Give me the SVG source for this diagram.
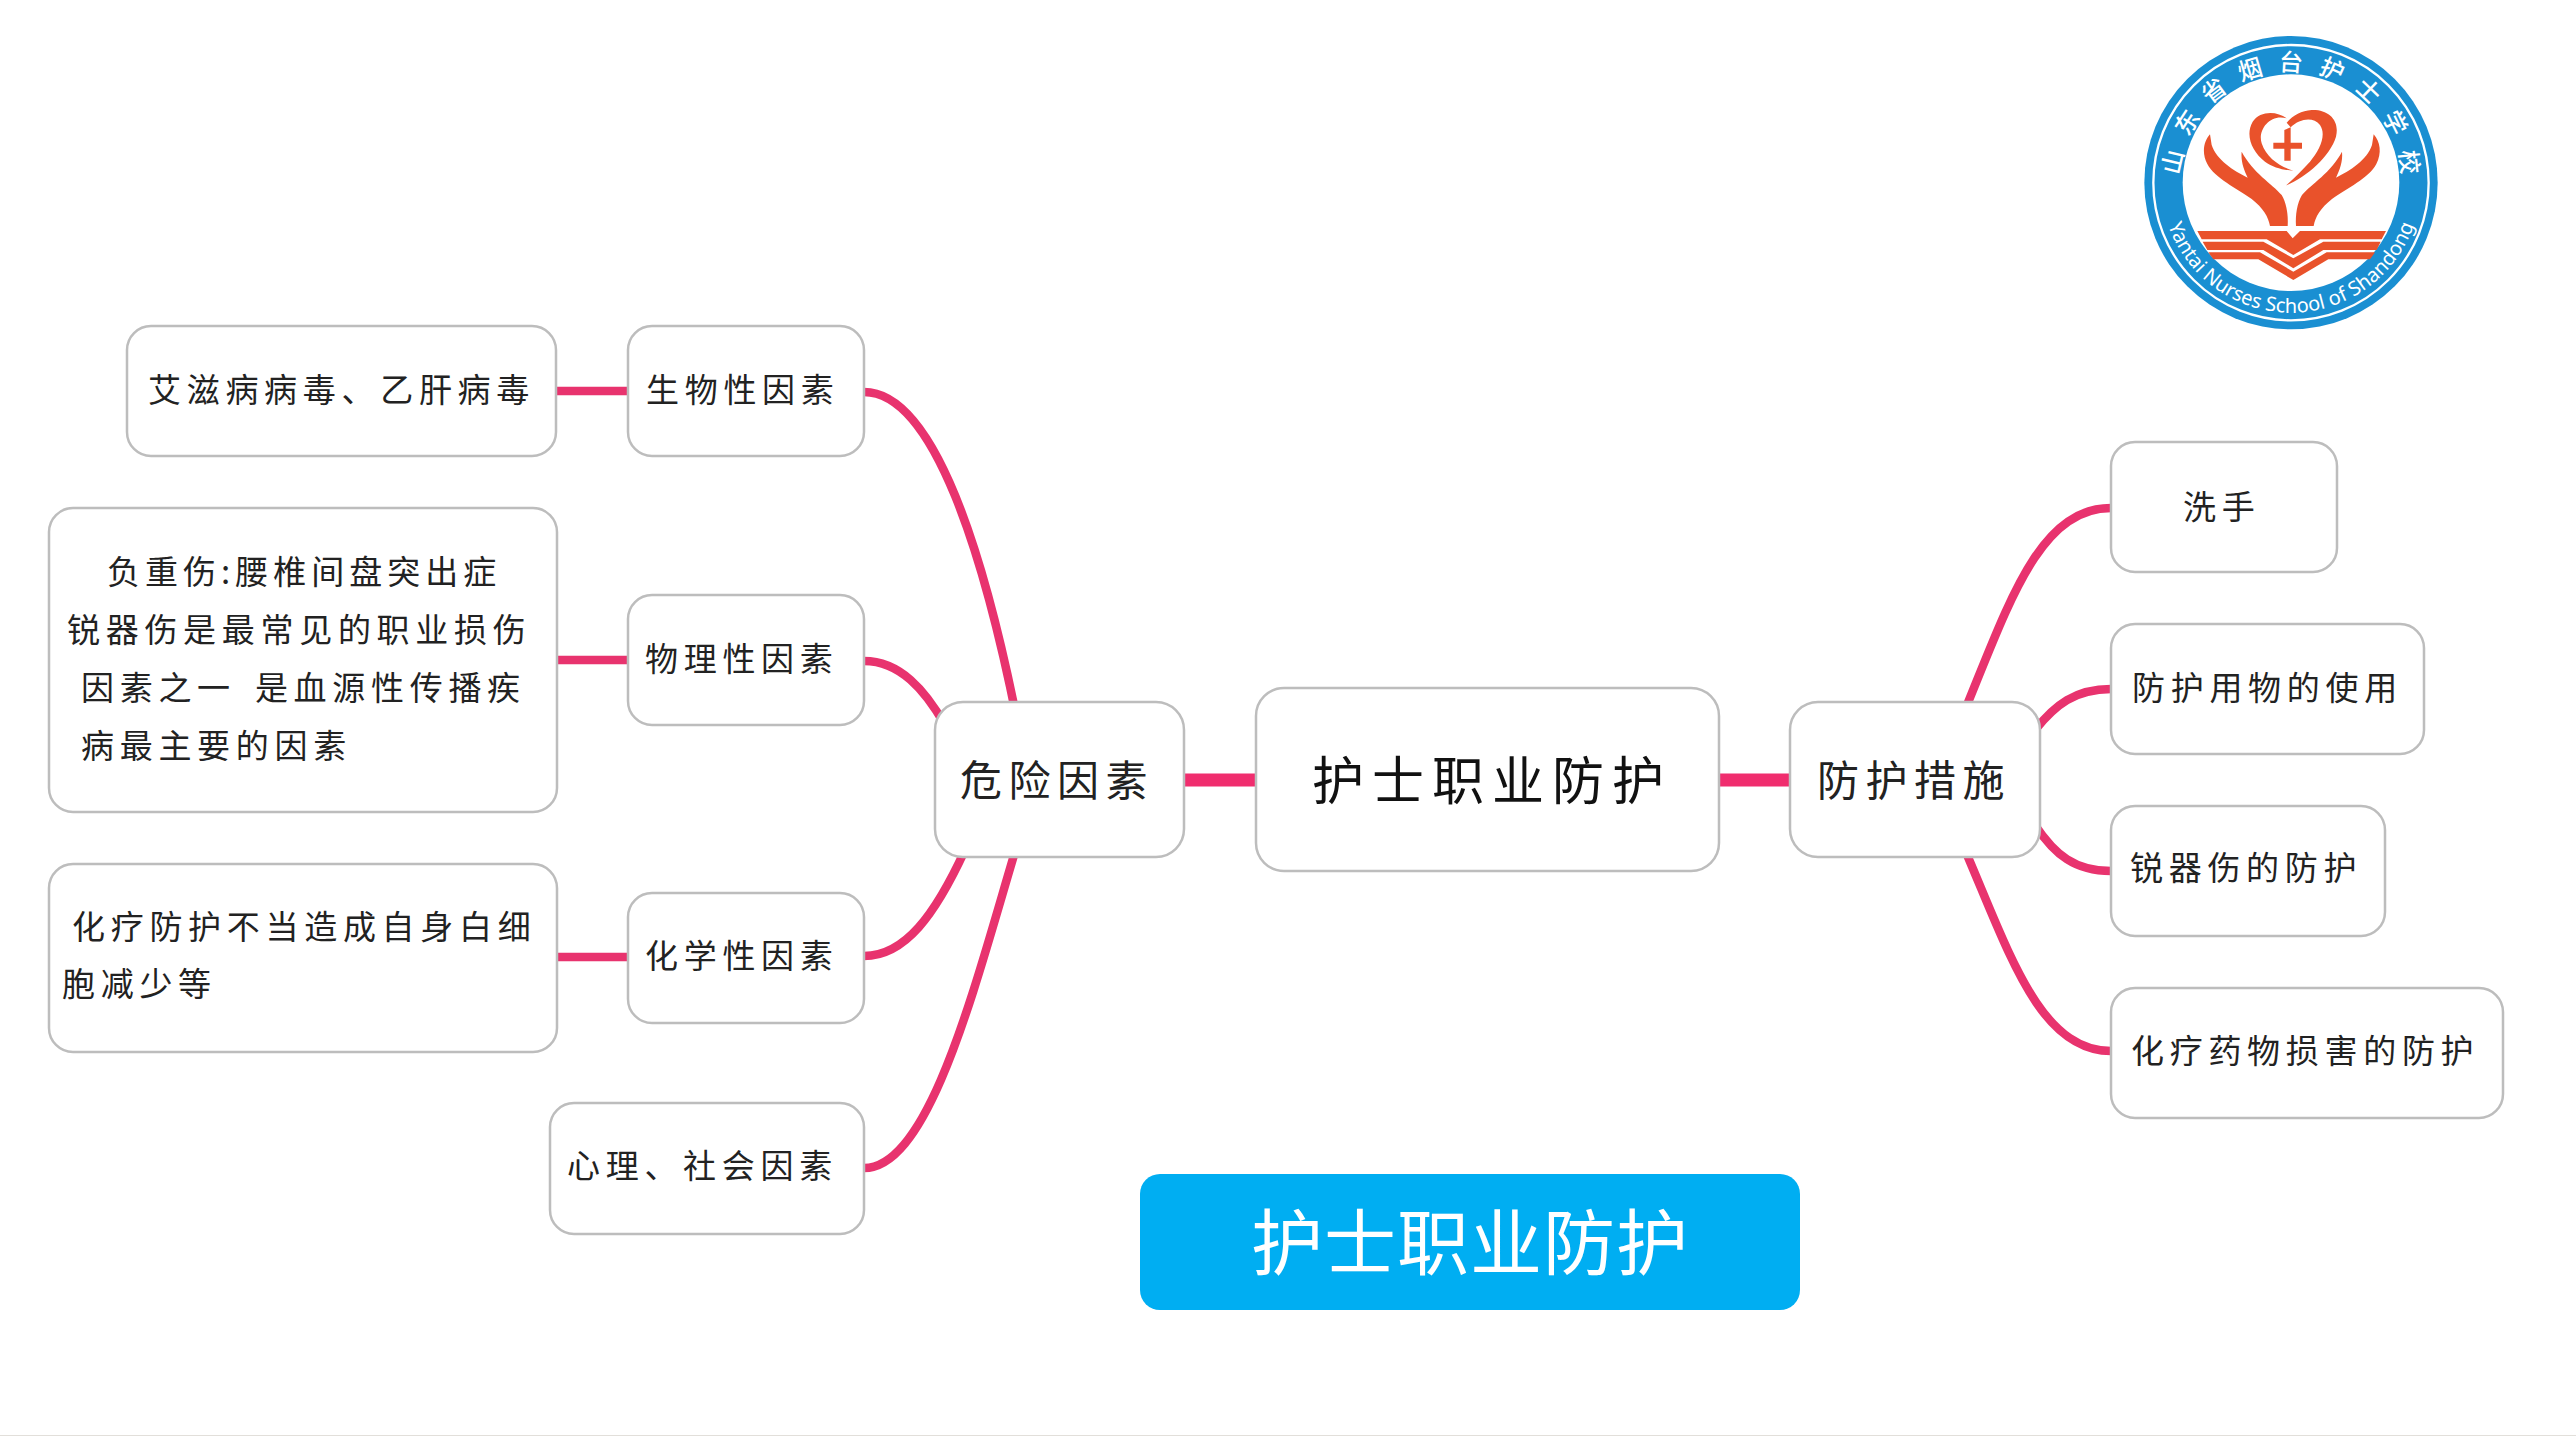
<svg xmlns="http://www.w3.org/2000/svg" width="2576" height="1436" viewBox="0 0 2576 1436">
<style>
.n{fill:#fff;stroke:#bdbdbd;stroke-width:2.5}
.t{font-family:"Noto Sans CJK SC",sans-serif;fill:#222;dominant-baseline:central}
.s{font-size:33px;letter-spacing:5.7px;font-weight:400}
.m{font-size:42px;letter-spacing:6.5px;font-weight:400}
.r{font-size:52px;letter-spacing:8px;font-weight:400;fill:#111}
.c{fill:none;stroke:#e8336e;stroke-width:8.5;stroke-linecap:butt}
.b{fill:none;stroke:#f02d6e;stroke-width:13}
.o{fill:#e9522b}
</style>
<defs>
<path id="hand" d="M270 343C250 365 245 400 262 432C285 475 350 505 395 537C430 565 445 590 450 618L503 618C505 585 500 550 485 525C455 490 400 460 365 395C362 425 372 450 383 473C340 452 290 420 275 375Z"/>
<path id="arcTop" d="M 225 654 A 333 333 0 1 1 801 654"/>
<path id="arcBot" d="M 123 488 A 390 390 0 0 0 903 488"/>
</defs>
<rect width="2576" height="1436" fill="#fff"/>
<rect y="1435" width="2576" height="1" fill="#e2dfda"/>
<g id="connectors">
<path class="b" d="M1184 780H1256"/>
<path class="b" d="M1720 780H1790"/>
<path class="c" d="M864 392C935 392 985 560 1017 720"/>
<path class="c" d="M864 661C900 661 925 690 945 725"/>
<path class="c" d="M864 956C905 956 935 915 965 850"/>
<path class="c" d="M864 1168C930 1168 975 985 1017 845"/>
<path class="c" d="M556 391H628"/>
<path class="c" d="M556 660H628"/>
<path class="c" d="M556 957H628"/>
<path class="c" d="M2111 508C2040 508 2010 600 1965 710"/>
<path class="c" d="M2111 689C2075 689 2055 705 2035 730"/>
<path class="c" d="M2111 871C2075 871 2055 855 2035 825"/>
<path class="c" d="M2111 1051C2040 1051 2010 955 1965 850"/>
</g>
<g id="root"><rect class="n" x="1256" y="688" width="463" height="183" rx="28"/><text class="t r" x="1312" y="777">护士职业防护</text></g>
<g id="danger"><rect class="n" x="935" y="702" width="249" height="155" rx="28"/><text class="t m" x="960" y="777">危险因素</text></g>
<g id="protect"><rect class="n" x="1790" y="702" width="250" height="155" rx="28"/><text class="t m" x="1817" y="777">防护措施</text></g>
<g id="bio"><rect class="n" x="628" y="326" width="236" height="130" rx="24"/><text class="t s" x="646" y="388">生物性因素</text></g>
<g id="phys"><rect class="n" x="628" y="595" width="236" height="130" rx="24"/><text class="t s" x="645" y="657">物理性因素</text></g>
<g id="chem"><rect class="n" x="628" y="893" width="236" height="130" rx="24"/><text class="t s" x="645" y="954">化学性因素</text></g>
<g id="psy"><rect class="n" x="550" y="1103" width="314" height="131" rx="24"/><text class="t s" x="567" y="1164">心理、社会因素</text></g>
<g id="bio-detail"><rect class="n" x="127" y="326" width="429" height="130" rx="24"/><text class="t s" x="148" y="388">艾滋病病毒、乙肝病毒</text></g>
<g id="phys-detail"><rect class="n" x="49" y="508" width="508" height="304" rx="24"/>
<text class="t s" x="107" y="570" style="letter-spacing:5px">负重伤:腰椎间盘突出症</text>
<text class="t s" x="67" y="628">锐器伤是最常见的职业损伤</text>
<text class="t s" x="81" y="686" word-spacing="6">因素之一 是血源性传播疾</text>
<text class="t s" x="81" y="744">病最主要的因素</text></g>
<g id="chem-detail"><rect class="n" x="49" y="864" width="508" height="188" rx="24"/>
<text class="t s" x="72" y="925">化疗防护不当造成自身白细</text>
<text class="t s" x="62" y="982">胞减少等</text></g>
<g id="wash"><rect class="n" x="2111" y="442" width="226" height="130" rx="24"/><text class="t s" x="2183" y="505">洗手</text></g>
<g id="ppe"><rect class="n" x="2111" y="624" width="313" height="130" rx="24"/><text class="t s" x="2132" y="686">防护用物的使用</text></g>
<g id="sharp"><rect class="n" x="2111" y="806" width="274" height="130" rx="24"/><text class="t s" x="2130" y="866">锐器伤的防护</text></g>
<g id="chemo"><rect class="n" x="2111" y="988" width="392" height="130" rx="24"/><text class="t s" x="2131" y="1049">化疗药物损害的防护</text></g>
<g id="banner"><rect x="1140" y="1174" width="660" height="136" rx="20" fill="#00aef2"/><text x="1470" y="1237" text-anchor="middle" font-family="'Noto Sans CJK SC',sans-serif" font-size="72" letter-spacing="1" fill="#fff" dominant-baseline="central">护士职业防护</text></g>
<g id="logo" transform="translate(2120 20) scale(.33333)">
<circle cx="513" cy="488" r="440" fill="#1a8fd2"/>
<circle cx="513" cy="488" r="413" fill="none" stroke="#fff" stroke-width="7"/>
<circle cx="513" cy="488" r="325" fill="#fff"/>
<text font-family="'Noto Sans CJK SC',sans-serif" font-size="72" font-weight="500" fill="#fff" letter-spacing="44.6" text-anchor="middle"><textPath href="#arcTop" startOffset="719">山东省烟台护士学校</textPath></text>
<text font-family="'Noto Sans',sans-serif" font-size="60" fill="#fff" text-anchor="middle"><textPath href="#arcBot" startOffset="50%">Yantai Nurses School of Shandong</textPath></text>
<path class="o" d="M500 295C470 272 420 272 398 305C375 345 395 395 435 425C460 443 490 450 520 452C480 440 440 415 425 370C412 330 450 280 500 295Z"/>
<path class="o" d="M497 497C560 470 630 410 648 350C660 300 625 268 575 270C545 272 520 285 500 308L512 322C540 295 580 290 600 315C620 345 600 390 570 425C545 452 520 478 497 497Z"/>
<path class="o" d="M493 330L512 322V368H546V386H512V422H493V386H460V368H493Z"/>
<use href="#hand" class="o"/>
<use href="#hand" class="o" transform="translate(1031 0) scale(-1 1)"/>
<path class="o" d="M232 633H500L518 655L540 633H798L785 658H600L520 705L440 658H245Z"/>
<path class="o" d="M248 665H430L520 715L610 665H782L770 690H610L520 745L430 690H262Z"/>
<path class="o" d="M265 697H420L520 755L620 697H765L750 718H625L520 780L415 718H280Z"/>
</g>
</svg>
